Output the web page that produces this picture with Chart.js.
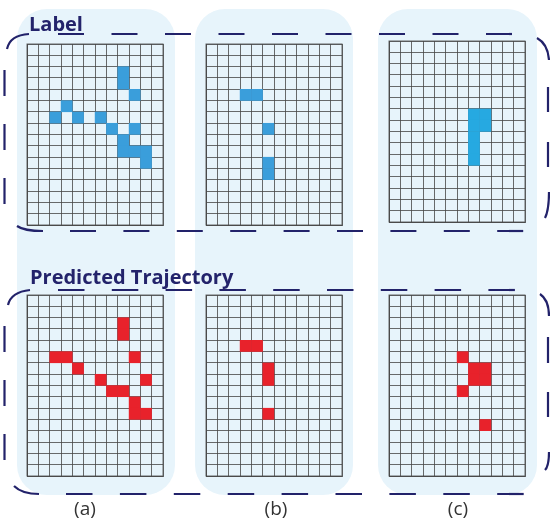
<!DOCTYPE html>
<html>
<head>
<meta charset="utf-8">
<script src="https://cdn.jsdelivr.net/npm/chart.js@4/dist/chart.umd.min.js"></script>
<style>
  html, body { margin: 0; padding: 0; background: #ffffff; }
  #wrap { position: relative; width: 550px; height: 521px; overflow: hidden; font-family: "Open Sans", sans-serif; }
  svg { position: absolute; left: 0; top: 0; }
  canvas { position: absolute; }
  .title { position: absolute; font-weight: 700; font-size: 20px; color: #23236b; white-space: nowrap; line-height: 1; }
  .sub { position: absolute; font-size: 19px; color: #333333; white-space: nowrap; line-height: 1; transform: translateX(-50%); }
</style>
</head>
<body>
<div id="wrap">
  <svg width="550" height="521" id="bg">
    <rect x="17" y="9" width="158" height="486" rx="30" fill="#e7f4fb"/>
    <rect x="195" y="9" width="158" height="486" rx="30" fill="#e7f4fb"/>
    <rect x="378" y="9" width="159" height="486" rx="30" fill="#e7f4fb"/>
  </svg>
  <canvas id="gLa" width="138" height="183" style="left:26px;top:43px"></canvas>
  <canvas id="gLb" width="138" height="183" style="left:205px;top:43px"></canvas>
  <canvas id="gLc" width="138" height="183" style="left:388px;top:40px"></canvas>
  <canvas id="gPa" width="138" height="183" style="left:26px;top:294px"></canvas>
  <canvas id="gPb" width="138" height="183" style="left:205px;top:294px"></canvas>
  <canvas id="gPc" width="138" height="183" style="left:388px;top:294px"></canvas>
  <svg width="550" height="521" id="fg" fill="none" stroke="#22226a" stroke-width="2.2" stroke-linecap="butt">
    <!-- top box -->
    <path d="M7,49 Q10,35 29,34"/>
    <path d="M58,34 H512" stroke-dasharray="26 27.5"/>
    <path d="M537,38 Q548,44 549,60"/>
    <path d="M548,87 V167" stroke-dasharray="25 30"/>
    <path d="M549,192 Q549,210 545,218"/>
    <path d="M17,226 Q24,231 43,231"/>
    <path d="M70,231 H525" stroke-dasharray="26 27.4"/>
    <path d="M4.5,70 V204" stroke-dasharray="26 28"/>
    <!-- bottom box -->
    <path d="M8,305 Q11,292 30,290"/>
    <path d="M58,290 H516" stroke-dasharray="26.5 27.3"/>
    <path d="M540,294 Q549,300 549,316"/>
    <path d="M548,337 V417" stroke-dasharray="26 29"/>
    <path d="M549,452 Q549,466 545,470"/>
    <path d="M14,486 Q22,494 39,494"/>
    <path d="M66,494 H525" stroke-dasharray="26.5 27.4"/>
    <path d="M4.5,326 V460" stroke-dasharray="26 28"/>
  </svg>
  <div class="title" style="left:29px;top:14px">Label</div>
  <div class="title" style="left:30px;top:267px">Predicted Trajectory</div>
  <div class="sub" style="left:85px;top:499px">(a)</div>
  <div class="sub" style="left:276px;top:499px">(b)</div>
  <div class="sub" style="left:458px;top:499px">(c)</div>
</div>
<script>
// grid size (columns x rows)
const gridCols = 12;
const gridRows = 16;
// occupied cells as [column, row], row 0 at top
const labelA = [[8,2],[8,3],[9,4],[3,5],[2,6],[4,6],[6,6],[7,7],[9,7],[8,8],[8,9],[9,9],[10,9],[10,10]];
const labelB = [[3,4],[4,4],[5,7],[5,10],[5,11]];
const labelC = [[7,6],[8,6],[7,7],[8,7],[7,8],[7,9],[7,10]];
const predA = [[8,2],[8,3],[2,5],[3,5],[9,5],[4,6],[6,7],[10,7],[7,8],[8,8],[9,9],[9,10],[10,10]];
const predB = [[3,4],[4,4],[5,6],[5,7],[5,10]];
const predC = [[6,5],[7,6],[8,6],[7,7],[8,7],[6,8],[8,11]];

const blueA = '#3a9edb';
const blueC = '#26a9e1';
const red = '#e8222b';

function cellRadius(ctx) {
  const a = ctx.chart.chartArea;
  return a ? (a.width / gridCols) / Math.SQRT2 + 0.3 : 8;
}

function makeGrid(id, cells, color) {
  new Chart(document.getElementById(id), {
    type: 'scatter',
    data: {
      datasets: [{
        data: cells.map(c => ({ x: c[0] + 0.5, y: c[1] + 0.5 })),
        pointStyle: 'rect',
        backgroundColor: color,
        borderWidth: 0,
        pointRadius: cellRadius,
        pointHoverRadius: cellRadius
      }]
    },
    options: {
      responsive: false,
      animation: false,
      events: [],
      layout: { padding: 1, autoPadding: false },
      plugins: { legend: { display: false }, tooltip: { enabled: false } },
      scales: {
        x: {
          type: 'linear', min: 0, max: gridCols, z: 1,
          ticks: { display: false, stepSize: 1, padding: 0 },
          grid: { color: 'rgba(70,70,70,0.8)', lineWidth: 1, drawTicks: false },
          border: { display: true, color: 'rgba(70,70,70,0.8)', width: 1 },
          afterFit(scale) { scale.height = 0; }
        },
        y: {
          type: 'linear', min: 0, max: gridRows, reverse: true, z: 1,
          ticks: { display: false, stepSize: 1, padding: 0 },
          grid: { color: 'rgba(70,70,70,0.8)', lineWidth: 1, drawTicks: false },
          border: { display: true, color: 'rgba(70,70,70,0.8)', width: 1 },
          afterFit(scale) { scale.width = 0; }
        }
      }
    },
    plugins: [{
      id: 'frame',
      afterDraw(chart) {
        const { ctx, chartArea: a } = chart;
        ctx.save();
        ctx.strokeStyle = 'rgba(70,70,70,0.8)';
        ctx.lineWidth = 1;
        ctx.strokeRect(a.left, a.top, a.width, a.height);
        ctx.restore();
      }
    }]
  });
}

makeGrid('gLa', labelA, blueA);
makeGrid('gLb', labelB, blueA);
makeGrid('gLc', labelC, blueC);
makeGrid('gPa', predA, red);
makeGrid('gPb', predB, red);
makeGrid('gPc', predC, red);
</script>
</body>
</html>
